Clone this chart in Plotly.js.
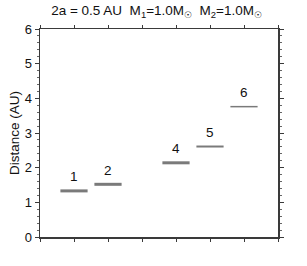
<!DOCTYPE html>
<html>
<head>
<meta charset="utf-8">
<script src="https://cdn.plot.ly/plotly-3.0.1.min.js"></script>
<style>html,body{margin:0;padding:0;background:#fff;}#chart{width:307px;height:266px;}</style>
</head>
<body>
<div id="chart"></div>
<script>
// Data
const positions = [1, 2, 4, 5, 6];
const labels = ["1", "2", "4", "5", "6"];
const distances = [1.33, 1.52, 2.14, 2.61, 3.76];

// Styles
const halfWidth = 0.4;
const lineWidths = [3, 3, 3, 2, 1.5];
const barColor = "#7a7a7a";
const font = "Liberation Sans, Arial, sans-serif";

const traces = positions.map((p, i) => ({
  x: [p - halfWidth, p + halfWidth],
  y: [distances[i], distances[i]],
  mode: "lines",
  line: {color: barColor, width: lineWidths[i]},
  hoverinfo: "skip",
  showlegend: false
}));

const annotations = positions.map((p, i) => ({
  x: p, y: distances[i], text: labels[i],
  showarrow: false, yshift: 14,
  font: {family: font, size: 13.5, color: "#111"}
}));

const axisCommon = {
  showline: true, linecolor: "#3a3a3a", linewidth: 1.5,
  mirror: "ticks", showgrid: false, zeroline: false,
  ticks: "outside", ticklen: 3, tickcolor: "#3a3a3a", tickwidth: 1
};

const layout = {
  width: 307, height: 266,
  margin: {l: 40, r: 29, t: 29, b: 29},
  paper_bgcolor: "#fff", plot_bgcolor: "#fff",
  font: {family: font, size: 12, color: "#111"},
  title: {
    text: "2a = 0.5 AU  M<sub>1</sub>=1.0M<sub>☉</sub>  M<sub>2</sub>=1.0M<sub>☉</sub>",
    x: 0.51, xanchor: "center", y: 0.98, yanchor: "top",
    font: {family: font, size: 13.5, color: "#111"}
  },
  xaxis: Object.assign({}, axisCommon, {
    range: [0, 7], tick0: 0, dtick: 1, showticklabels: false, fixedrange: true
  }),
  yaxis: Object.assign({}, axisCommon, {
    range: [0, 6], tick0: 0, dtick: 1, ticklen: 4,
    tickfont: {family: font, size: 13, color: "#111"},
    minor: {dtick: 0.2, ticks: "outside", ticklen: 2, tickcolor: "#666", tickwidth: 1},
    title: {text: "Distance (AU)", standoff: 2, font: {family: font, size: 13.5, color: "#111"}}
  }),
  annotations: annotations
};

Plotly.newPlot("chart", traces, layout, {staticPlot: true, displayModeBar: false});
</script>
</body>
</html>
